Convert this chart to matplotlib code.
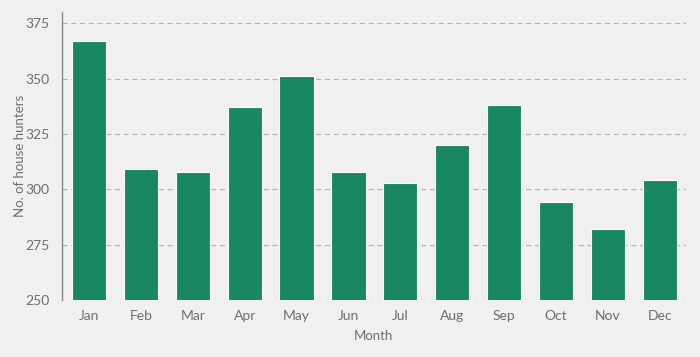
import matplotlib.pyplot as plt

plt.rcParams['font.family'] = ['Lato', 'DejaVu Sans']

# data
months = ['Jan', 'Feb', 'Mar', 'Apr', 'May', 'Jun', 'Jul', 'Aug', 'Sep', 'Oct', 'Nov', 'Dec']
hunters = [367, 309, 308, 337, 351, 308, 303, 320, 338, 294, 282, 304]
yticks = [250, 275, 300, 325, 350, 375]

bg = '#f0f0f0'
grey = '#6b6e73'

fig = plt.figure(figsize=(7, 3.57), dpi=100, facecolor=bg)
ax = fig.add_axes([0.0886, 0.16, 0.891, 0.806], facecolor=bg)

ax.bar(range(len(months)), hunters, width=0.66, color='#1a8763',
       edgecolor='white', linewidth=0.8, zorder=3)

ax.set_ylim(250, 380)
ax.set_xlim(-0.52, 11.5)
ax.set_yticks(yticks)
ax.set_xticks(range(len(months)))
ax.set_xticklabels(months)
ax.grid(axis='y', color='#b5b5b5', linestyle=(0, (4, 3)), linewidth=0.9, zorder=0)

for s in ['top', 'right', 'bottom']:
    ax.spines[s].set_visible(False)
ax.spines['left'].set_color('#888a8e')
ax.spines['left'].set_linewidth(1.0)

ax.tick_params(axis='both', length=0, labelsize=10, colors=grey)
ax.tick_params(axis='x', pad=7)
ax.tick_params(axis='y', pad=9)
ax.set_xlabel('Month', fontsize=9.5, color=grey)
ax.set_ylabel('No. of house hunters', fontsize=9.5, color=grey)
ax.xaxis.set_label_coords(0.5, -0.105)
ax.yaxis.set_label_coords(-0.058, 0.5)

fig.savefig('out.png', dpi=100, facecolor=bg)
